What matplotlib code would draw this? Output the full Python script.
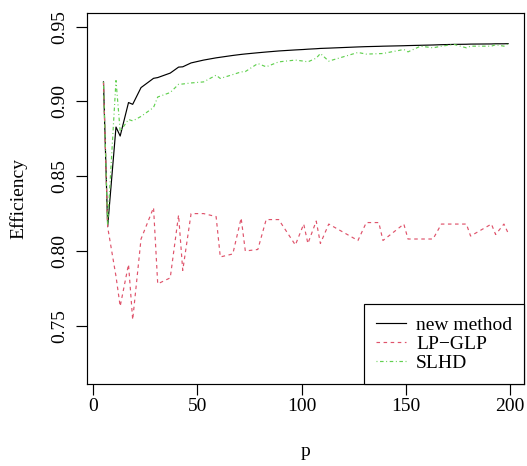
import matplotlib
matplotlib.use("Agg")
import matplotlib.pyplot as plt

p = [5, 7, 11, 13, 17, 19, 23, 29, 31, 37, 41, 43, 47, 53, 59, 61, 67, 71, 73, 79,
     83, 89, 97, 101, 103, 107, 109, 113, 127, 131, 137, 139, 149, 151, 157, 163,
     167, 173, 179, 181, 191, 193, 197, 199]

new_method = [0.9131, 0.8163, 0.8829, 0.8769, 0.8993, 0.8981, 0.9093, 0.9155, 0.9160, 0.9190,
              0.9230, 0.9232, 0.9258, 0.9277, 0.9292, 0.9296, 0.9308, 0.9315, 0.9318, 0.9326,
              0.9331, 0.9338, 0.9345, 0.9348, 0.9350, 0.9353, 0.9355, 0.9357, 0.9365, 0.9367,
              0.9369, 0.9370, 0.9373, 0.9374, 0.9376, 0.9378, 0.9380, 0.9382, 0.9383, 0.9384,
              0.9385, 0.9386, 0.9386, 0.9387]

lp_glp = [0.913, 0.816, 0.783, 0.763, 0.791, 0.754, 0.808, 0.829, 0.778, 0.782,
          0.824, 0.787, 0.825, 0.825, 0.823, 0.796, 0.798, 0.822, 0.800, 0.801,
          0.821, 0.821, 0.804, 0.818, 0.805, 0.820, 0.805, 0.818, 0.807, 0.819,
          0.819, 0.807, 0.818, 0.808, 0.808, 0.808, 0.818, 0.818, 0.818, 0.810,
          0.818, 0.811, 0.818, 0.812]

slhd = [0.913, 0.818, 0.914, 0.880, 0.888, 0.887, 0.890, 0.896, 0.903, 0.906,
        0.9115, 0.9117, 0.9124, 0.9131, 0.9176, 0.9154, 0.918, 0.9198, 0.920, 0.9254,
        0.9232, 0.9265, 0.9277, 0.927, 0.9265, 0.929, 0.9321, 0.927, 0.9328, 0.9317,
        0.932, 0.9321, 0.9348, 0.9332, 0.937, 0.9359, 0.937, 0.9382, 0.9359, 0.937,
        0.937, 0.938, 0.937, 0.9386]

series_names = ["new method", "LP\u2212GLP", "SLHD"]
y_ticks = [0.75, 0.80, 0.85, 0.90, 0.95]
x_ticks = [0, 50, 100, 150, 200]

plt.rcParams['font.family'] = ['Liberation Serif', 'DejaVu Serif']
plt.rcParams['font.size'] = 14

W, H = 527, 466
fig = plt.figure(figsize=(W / 100, H / 100), dpi=100)
L, R, T, B = 87.3, 524.3, 13.0, 384.3
ax = fig.add_axes([L / W, 1 - B / H, (R - L) / W, (B - T) / H])

lw = 0.85
ax.plot(p, new_method, color='black', lw=lw, label=series_names[0])
ax.plot(p, lp_glp, color='#DF536B', lw=lw, dashes=(3, 3), label=series_names[1])
ax.plot(p, slhd, color='#61D04F', lw=lw, dashes=(0.8, 2.2, 3, 2.2), label=series_names[2])

xr = (p[-1] - p[0]) * 0.04
ax.set_xlim(p[0] - xr, p[-1] + xr)
yr = (0.95 - 0.72) * 0.04
ax.set_ylim(0.72 - yr, 0.95 + yr)

ax.set_xticks(x_ticks)
ax.set_xticklabels([str(v) for v in x_ticks])
ax.set_yticks(y_ticks)
ax.set_yticklabels([f"{v:.2f}" for v in y_ticks], rotation=90, va='center')

ax.tick_params(axis='both', direction='out', length=7.7, width=0.85, colors='black', labelsize=14)
ax.tick_params(axis='x', pad=2.5)
ax.tick_params(axis='y', pad=6)
for s in ax.spines.values():
    s.set_linewidth(0.85)
    s.set_color('black')

fig.text((L + R) / 2 / W, 1 - 452 / H, "p", ha='center', va='center', fontsize=14)
fig.text(18.5 / W, 1 - (T + B) / 2 / H, "Efficiency", ha='center', va='center',
         rotation=90, fontsize=14)

leg = ax.legend(loc='lower right', borderaxespad=0, fancybox=False, frameon=True,
                edgecolor='black', framealpha=1, handlelength=1.55, handletextpad=0.5,
                labelspacing=0.09, borderpad=0.62, fontsize=14)
leg.get_frame().set_linewidth(0.85)

fig.savefig("out.png", dpi=100)
